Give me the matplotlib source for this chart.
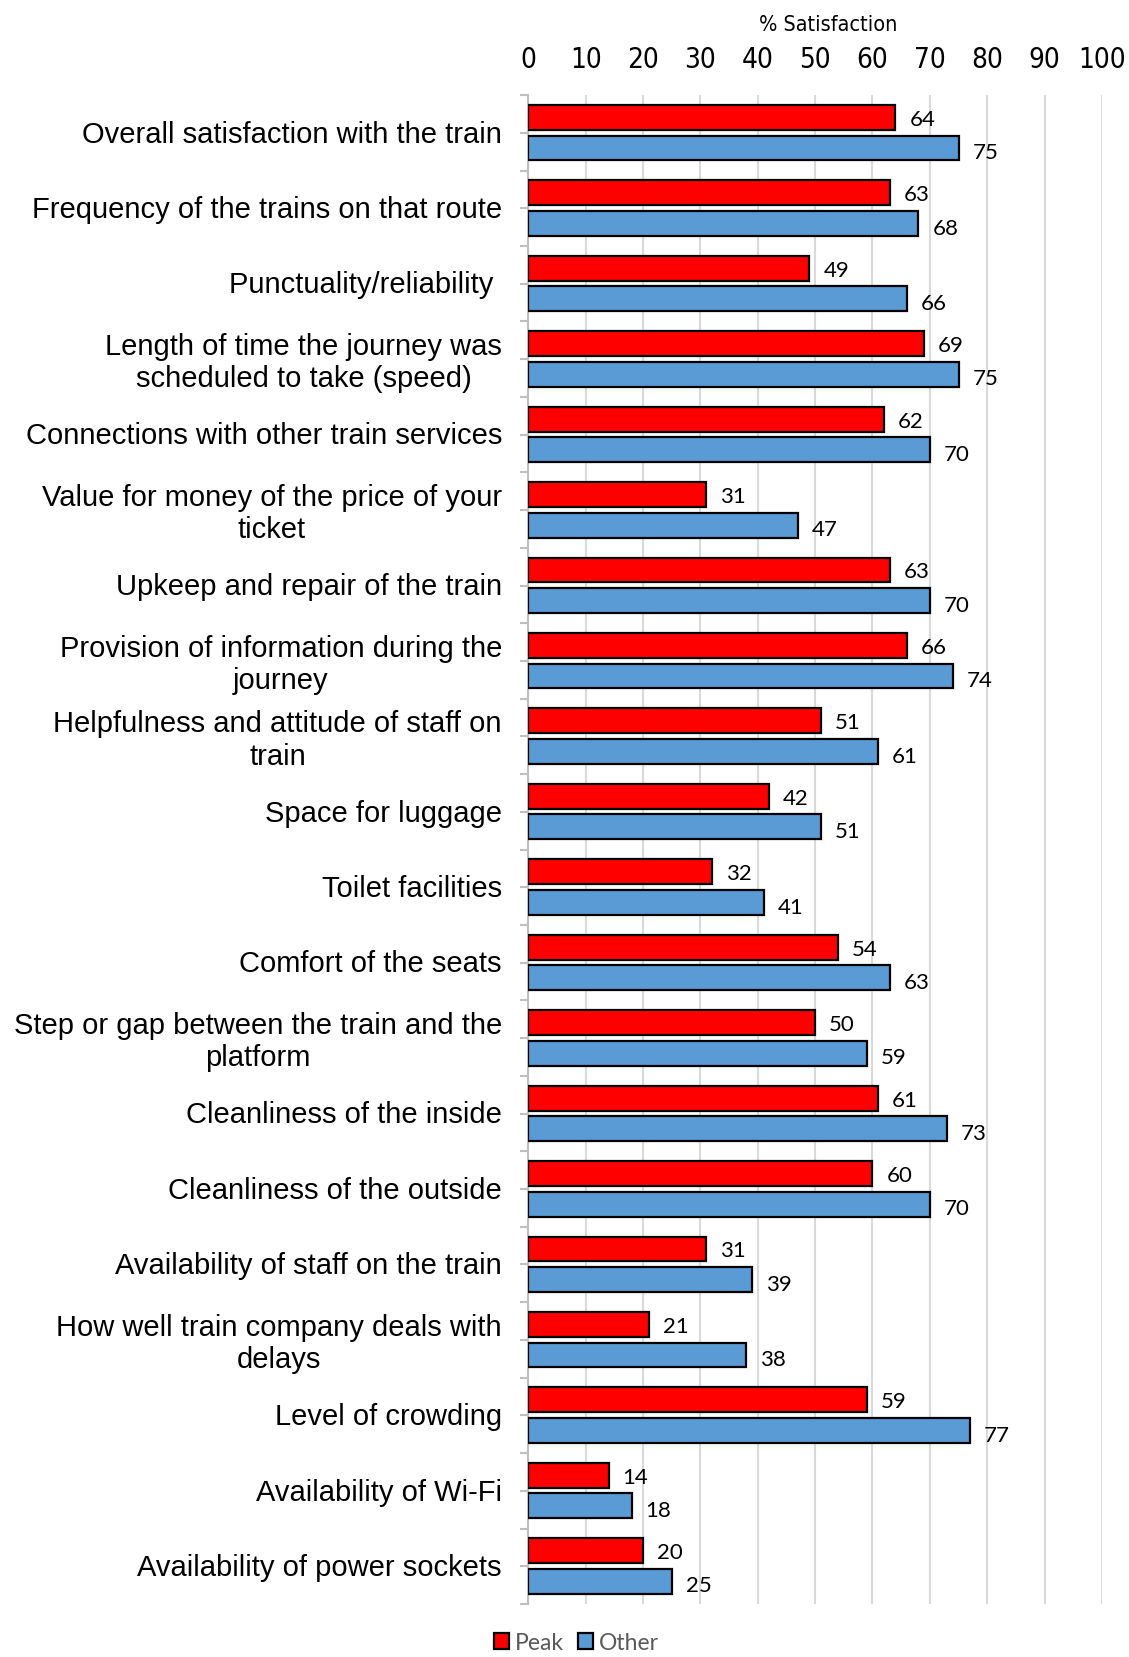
import numpy as np
import matplotlib.pyplot as plt
from matplotlib.patches import Patch

# Categories and survey values (% satisfaction)
categories = [
    "Overall satisfaction with the train",
    "Frequency of the trains on that route",
    "Punctuality/reliability ",
    "Length of time the journey was\nscheduled to take (speed)",
    "Connections with other train services",
    "Value for money of the price of your\nticket",
    "Upkeep and repair of the train",
    "Provision of information during the\njourney",
    "Helpfulness and attitude of staff on\ntrain",
    "Space for luggage",
    "Toilet facilities",
    "Comfort of the seats",
    "Step or gap between the train and the\nplatform",
    "Cleanliness of the inside",
    "Cleanliness of the outside",
    "Availability of staff on the train",
    "How well train company deals with\ndelays",
    "Level of crowding",
    "Availability of Wi-Fi",
    "Availability of power sockets",
]
peak = [64, 63, 49, 69, 62, 31, 63, 66, 51, 42, 32, 54, 50, 61, 60, 31, 21, 59, 14, 20]
other = [75, 68, 66, 75, 70, 47, 70, 74, 61, 51, 41, 63, 59, 73, 70, 39, 38, 77, 18, 25]
xticks = list(range(0, 101, 10))

red = "#FF0000"
blue = "#5B9BD5"

fig = plt.figure(figsize=(11.29, 16.58), dpi=100)
ax = fig.add_axes([0.468, 0.032, 0.508, 0.910])

y = np.arange(len(categories))
h = 0.33
ax.barh(y - 0.205, peak, height=h, color=red, edgecolor="black", linewidth=1.6, zorder=3)
ax.barh(y + 0.2, other, height=h, color=blue, edgecolor="black", linewidth=1.6, zorder=3)

# value labels
for i in range(len(categories)):
    ax.annotate(str(peak[i]), (peak[i], i - 0.205), xytext=(10, -1), textcoords="offset points",
                va="center", ha="left", fontsize=16, family="Lato", color="black")
    ax.annotate(str(other[i]), (other[i], i + 0.2), xytext=(10, -3), textcoords="offset points",
                va="center", ha="left", fontsize=16, family="Lato", color="black")

ax.set_xlim(0, 100)
ax.set_ylim(len(categories) - 0.5, -0.5)

# x axis on top
narrow = {"family": "DejaVu Sans", "stretch": "condensed"}
ax.xaxis.tick_top()
ax.set_xticks(xticks)
ax.set_xticklabels([str(t) for t in xticks], fontsize=20, **narrow)
ax.tick_params(axis="x", length=0, pad=16)
ax.text(0.522, 1.047, "% Satisfaction", transform=ax.transAxes, ha="center", va="center",
        fontsize=15.5, **narrow)
ax.grid(axis="x", color="#D9D9D9", linewidth=1.5, zorder=0)

# y axis: labels on category centres, small grey ticks every half category
ax.set_yticks(y - 0.03)
ax.set_yticklabels(categories, fontsize=21, family="Liberation Sans", linespacing=1.2,
                   multialignment="center")
ax.tick_params(axis="y", length=0, pad=19)
ax.set_yticks(np.arange(-0.5, len(categories), 0.5), minor=True)
ax.tick_params(axis="y", which="minor", length=6, color="#BFBFBF", width=1.5)

for s in ["top", "right", "bottom"]:
    ax.spines[s].set_visible(False)
ax.spines["left"].set_color("#BFBFBF")
ax.spines["left"].set_linewidth(1.5)

handles = [Patch(facecolor=red, edgecolor="black", linewidth=1.6, label="Peak"),
           Patch(facecolor=blue, edgecolor="black", linewidth=1.6, label="Other")]
leg = fig.legend(handles=handles, loc="lower center", bbox_to_anchor=(0.5106, -0.010), ncol=2,
                 frameon=False, prop={"family": "Lato", "size": 16.5}, handlelength=0.65,
                 handleheight=0.65, handletextpad=0.25, columnspacing=0.6)
for t in leg.get_texts():
    t.set_color("#595959")

fig.savefig("out.png", dpi=100)
